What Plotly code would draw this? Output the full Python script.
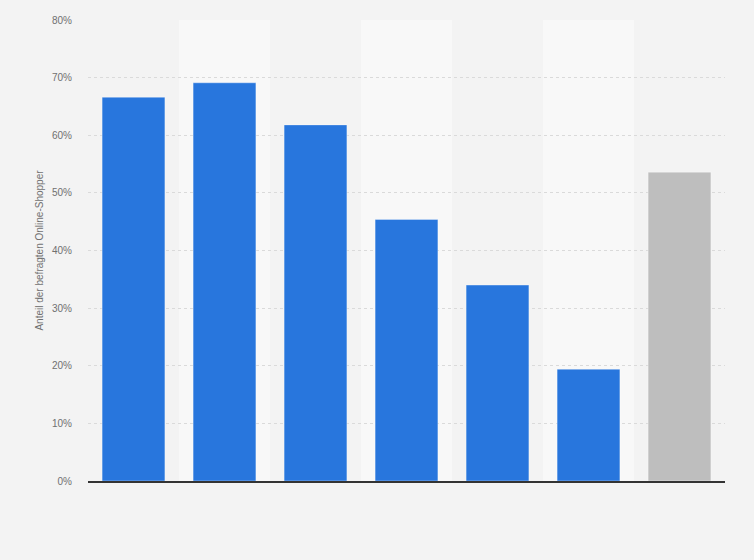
import plotly.graph_objects as go

categories = ["K1", "K2", "K3", "K4", "K5", "K6", "K7"]
values = [66.6, 69.1, 61.8, 45.4, 34.0, 19.4, 53.6]
bar_colors = ["#2876dd"] * 6 + ["#bebebe"]
y_ticks = [0, 10, 20, 30, 40, 50, 60, 70, 80]
y_tick_labels = [f"{v}%" for v in y_ticks]

fig = go.Figure()
fig.add_trace(go.Bar(
    x=categories,
    y=values,
    marker=dict(color=bar_colors, line=dict(color="rgba(255,255,255,0.35)", width=1)),
    hovertemplate="%{y:.1f}%<extra></extra>",
))

shapes = []
for i in range(len(categories)):
    if i % 2 == 1:
        shapes.append(dict(type="rect", xref="x", yref="paper", x0=i - 0.5, x1=i + 0.5,
                           y0=0, y1=1, fillcolor="#f8f8f8", line=dict(width=0), layer="below"))

fig.update_layout(
    width=754, height=560,
    margin=dict(l=88, r=29, t=20, b=79),
    paper_bgcolor="#f3f3f3",
    plot_bgcolor="#f3f3f3",
    bargap=0.31,
    showlegend=False,
    shapes=shapes,
    font=dict(family="Liberation Sans, Arial, sans-serif", size=10, color="#666666"),
    xaxis=dict(showticklabels=False, showgrid=False, showline=True, linecolor="#333333",
               linewidth=1.5, ticks="", zeroline=False, fixedrange=True),
    yaxis=dict(range=[0, 80], tickvals=y_ticks, ticktext=y_tick_labels,
               showgrid=True, gridcolor="#dadada", griddash="dot", gridwidth=1,
               zeroline=False, showline=False, ticks="", ticklabelstandoff=15,
               tickfont=dict(size=10, color="#707070"),
               title=dict(text="Anteil der befragten Online-Shopper", standoff=6,
                          font=dict(size=10, color="#707070")),
               fixedrange=True),
)

fig.write_html("out.html", config={"displayModeBar": False},
               post_script="document.body.style.margin='0';document.body.style.background='#f3f3f3';")
